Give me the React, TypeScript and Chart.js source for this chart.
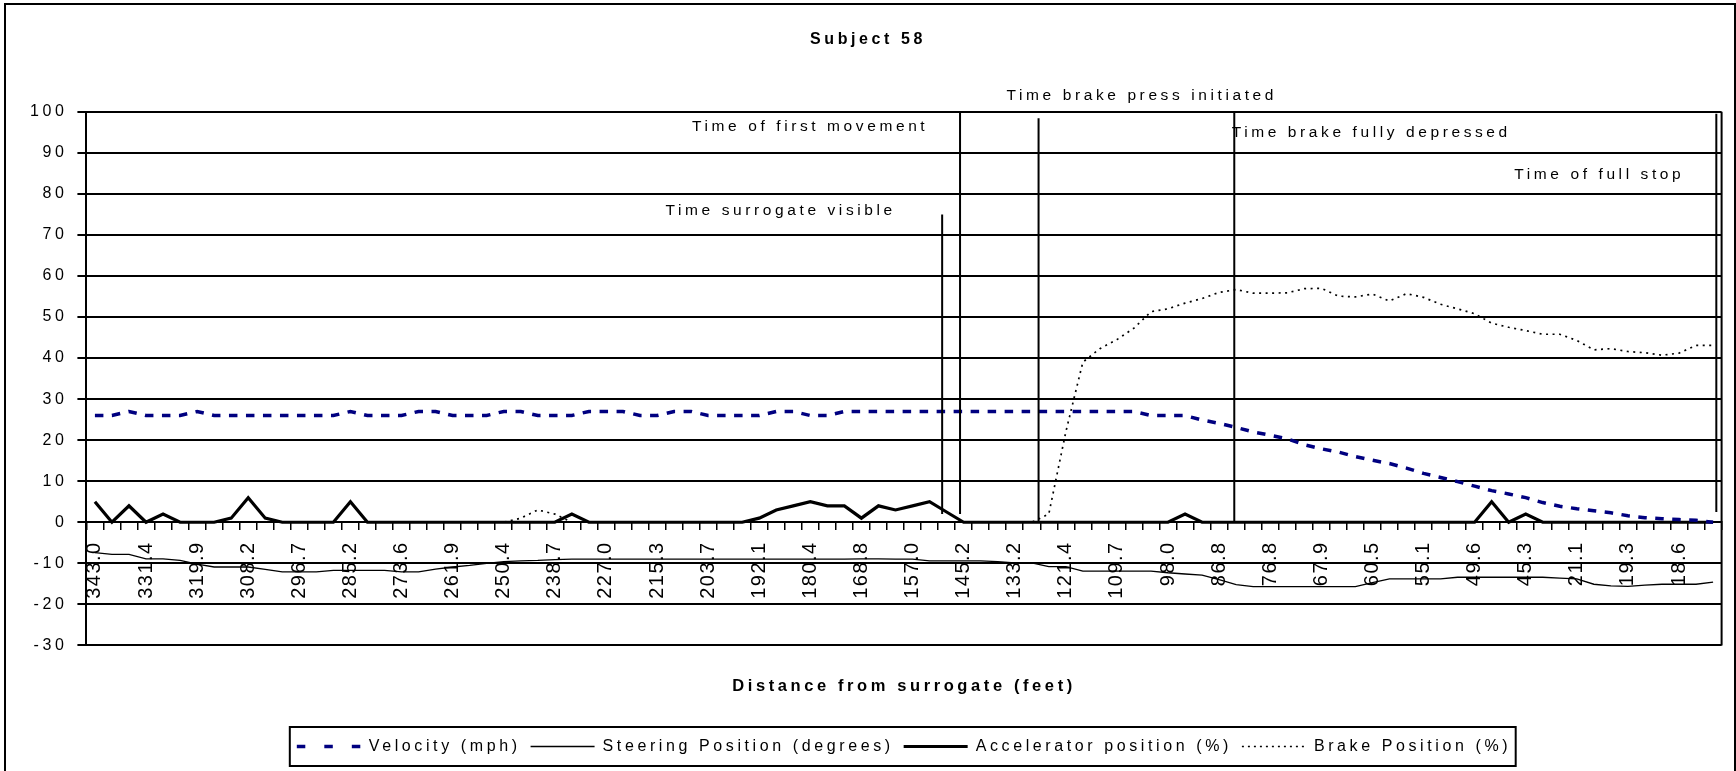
import React, { useEffect, useRef } from 'react';
import { Chart, registerables } from 'chart.js';

Chart.register(...registerables);

const FONT = "'Liberation Sans', Arial, sans-serif";
const LETTER_SPACING = '3.6px';
const TICK_SPACING = '1.5px';

// x-axis tick labels (distance from surrogate, feet) – one label every third sample
const tickLabels = [
  '343.0', '331.4', '319.9', '308.2', '296.7', '285.2', '273.6', '261.9', '250.4', '238.7',
  '227.0', '215.3', '203.7', '192.1', '180.4', '168.8', '157.0', '145.2', '133.2', '121.4',
  '109.7', '98.0', '86.8', '76.8', '67.9', '60.5', '55.1', '49.6', '45.3', '21.1',
  '19.3', '18.6',
];

const velocity = [
  26, 26, 27, 26, 26, 26, 27, 26, 26, 26,
  26, 26, 26, 26, 26, 27, 26, 26, 26, 27,
  27, 26, 26, 26, 27, 27, 26, 26, 26, 27,
  27, 27, 26, 26, 27, 27, 26, 26, 26, 26,
  27, 27, 26, 26, 27, 27, 27, 27, 27, 27,
  27, 27, 27, 27, 27, 27, 27, 27, 27, 27,
  27, 27, 26, 26, 26, 24.9, 24.1, 23.1, 22, 21.2,
  20.3, 18.9, 17.9, 17.1, 16, 15.1, 14.3, 13.2, 11.9, 10.9,
  9.9, 8.8, 7.7, 6.9, 6, 4.8, 3.9, 3.3, 2.8, 2.3,
  1.6, 1.1, 0.85, 0.65, 0.5, 0,
];

const steering = [
  -7.4, -7.8, -7.8, -8.9, -8.9, -9.3, -10.2, -10.9, -10.9, -10.9,
  -11.5, -12.1, -12.1, -12.1, -11.7, -11.7, -11.7, -11.7, -12.1, -12.1,
  -11.4, -10.9, -10.5, -10.0, -9.6, -9.4, -9.3, -9.1, -9.0, -9.0,
  -9.0, -9.0, -9.0, -9.0, -9.0, -9.0, -9.0, -9.0, -9.0, -9.0,
  -9.0, -9.0, -9.0, -9.0, -9.0, -8.9, -8.9, -9.0, -9.0, -9.4,
  -9.4, -9.4, -9.4, -9.6, -9.9, -9.9, -10.8, -10.8, -11.9, -11.9,
  -11.9, -11.9, -11.9, -12.3, -12.6, -12.9, -14.0, -15.2, -15.7, -15.7,
  -15.7, -15.7, -15.7, -15.7, -15.7, -14.7, -13.8, -13.8, -13.8, -13.8,
  -13.4, -13.4, -13.4, -13.4, -13.4, -13.4, -13.6, -13.8, -15.1, -15.5,
  -15.6, -15.3, -15.1, -15.1, -15.1, -14.6,
];

const accelerator = [
  5, 0, 4, 0, 2, 0, 0, 0, 1, 6,
  1, 0, 0, 0, 0, 5, 0, 0, 0, 0,
  0, 0, 0, 0, 0, 0, 0, 0, 2, 0,
  0, 0, 0, 0, 0, 0, 0, 0, 0, 1,
  3, 4, 5, 4, 4, 1, 4, 3, 4, 5,
  2.5, 0, 0, 0, 0, 0, 0, 0, 0, 0,
  0, 0, 0, 0, 2, 0, 0, 0, 0, 0,
  0, 0, 0, 0, 0, 0, 0, 0, 0, 0,
  0, 0, 5, 0, 2, 0, 0, 0, 0, 0,
  0, 0, 0, 0, 0, 0,
];

const brake = [
  0, 0, 0, 0, 0, 0, 0, 0, 0, 0,
  0, 0, 0, 0, 0, 0, 0, 0, 0, 0,
  0, 0, 0, 0, 0, 1, 3, 2, 0, 0,
  0, 0, 0, 0, 0, 0, 0, 0, 0, 0,
  0, 0, 0, 0, 0, 0, 0, 0, 0, 0,
  0, 0, 0, 0, 0, 0, 2, 22, 39, 42.3,
  44.5, 47.3, 51.3, 52, 53.4, 54.5, 56, 56.7, 55.8, 55.8,
  55.9, 56.9, 57, 55.1, 54.9, 55.6, 53.9, 55.7, 54.8, 53.1,
  52, 50.8, 48.5, 47.5, 46.7, 45.8, 45.8, 44.3, 42, 42.3,
  41.6, 41.3, 40.7, 41.2, 43.1, 43.1,
];

const seriesNames = [
  'Velocity (mph)',
  'Steering Position (degrees)',
  'Accelerator position (%)',
  'Brake Position (%)',
];

// event markers (x in sample-index units, y in axis units)
const eventLabels = [
  'Time surrogate visible',
  'Time of first movement',
  'Time brake press initiated',
  'Time brake fully depressed',
  'Time of full stop',
];
const eventAt = [49.74, 50.79, 55.4, 66.89, 95.19];
const eventTop = [75, 100, 98.4, 100, 99.5];
const eventBottom = [2, 2, 0, 0, 2.5];
const eventTextAt = [40.26, 41.99, 61.46, 74.93, 88.32];
const eventTextLevel = [75.8, 96.4, 104.0, 95.0, 84.6];

const categories = velocity.map((_, i) => (i % 3 === 0 ? tickLabels[i / 3] : ''));

const legendDashes = [[8.5, 19], [], [], [2, 4]];

const spacingPlugin = {
  id: 'letterSpacingPlugin',
  beforeUpdate(chart: any) { chart.ctx.letterSpacing = LETTER_SPACING; },
  beforeLayout(chart: any) { chart.ctx.letterSpacing = LETTER_SPACING; },
  beforeDraw(chart: any) { chart.ctx.letterSpacing = LETTER_SPACING; },
};

const eventPlugin = {
  id: 'eventMarkers',
  afterDatasetsDraw(chart: any) {
    const { ctx, scales } = chart;
    const x = scales.x;
    const y = scales.y;
    ctx.save();
    ctx.strokeStyle = '#000';
    ctx.lineWidth = 2;
    ctx.setLineDash([]);
    eventAt.forEach((v, i) => {
      const px = x.getPixelForValue(v);
      ctx.beginPath();
      ctx.moveTo(px, y.getPixelForValue(eventTop[i]));
      ctx.lineTo(px, y.getPixelForValue(eventBottom[i]));
      ctx.stroke();
    });
    ctx.font = `15.5px ${FONT}`;
    ctx.letterSpacing = LETTER_SPACING;
    ctx.fillStyle = '#000';
    ctx.textAlign = 'center';
    ctx.textBaseline = 'middle';
    eventLabels.forEach((t, i) => {
      ctx.fillText(t, x.getPixelForValue(eventTextAt[i]), y.getPixelForValue(eventTextLevel[i]));
    });
    ctx.restore();
    // the x tick labels are drawn after this hook (ticks.z = 1): tighter spacing
    ctx.letterSpacing = TICK_SPACING;
  },
};

const framePlugin = {
  id: 'frames',
  afterDraw(chart: any) {
    const { ctx, chartArea } = chart;
    ctx.save();
    ctx.strokeStyle = '#000';
    ctx.lineWidth = 2;
    ctx.setLineDash([]);
    ctx.beginPath();
    ctx.moveTo(chartArea.right, chartArea.top);
    ctx.lineTo(chartArea.right, chartArea.bottom);
    ctx.stroke();
    const hb = chart.legend && chart.legend.legendHitBoxes;
    if (hb && hb.length) {
      const first = hb[0];
      const last = hb[hb.length - 1];
      const left = first.left - 7;
      const right = last.left + last.width + 4.5;
      const cy = first.top + first.height / 2;
      ctx.strokeRect(left, cy - 19.5, right - left, 39);
    }
    ctx.strokeRect(5, 4, chart.width - 6, chart.height + 20);
    ctx.restore();
  },
};

export default function App() {
  const canvasRef = useRef<HTMLCanvasElement | null>(null);

  useEffect(() => {
    const canvas = canvasRef.current;
    if (!canvas) return;
    const chart = new Chart(canvas, {
      type: 'line',
      data: {
        labels: categories,
        datasets: [
          {
            label: seriesNames[0], data: velocity, borderColor: '#000080', borderWidth: 3.5,
            borderDash: [8.5, 8.5], pointRadius: 0, tension: 0, fill: false,
          },
          {
            label: seriesNames[1], data: steering, borderColor: '#000000', borderWidth: 1.3,
            pointRadius: 0, tension: 0, fill: false,
          },
          {
            label: seriesNames[2], data: accelerator, borderColor: '#000000', borderWidth: 3.2,
            pointRadius: 0, tension: 0, fill: false,
          },
          {
            label: seriesNames[3], data: brake, borderColor: '#000000', borderWidth: 1.7,
            borderDash: [2, 4.5], pointRadius: 0, tension: 0, fill: false,
          },
        ],
      },
      options: {
        animation: false,
        responsive: false,
        devicePixelRatio: 1,
        events: [],
        layout: { padding: { left: 0, right: 0, top: 0, bottom: 6.5 } },
        scales: {
          x: {
            type: 'category',
            position: { y: 0 } as any,
            offset: true,
            grid: {
              display: true, drawOnChartArea: false, drawTicks: true, tickLength: 7,
              offset: true, color: '#000', lineWidth: 1.5,
            },
            border: { display: true, color: '#000', width: 2 },
            ticks: {
              autoSkip: false, maxRotation: 90, minRotation: 90, padding: 12, color: '#000', z: 1,
              font: { size: 20, family: FONT },
            },
            afterFit: (s: any) => { s.paddingLeft = 0; s.paddingRight = 0; },
          },
          y: {
            type: 'linear',
            position: 'left',
            min: -30,
            max: 100,
            ticks: { stepSize: 10, color: '#000', padding: 10, font: { size: 16, family: FONT } },
            grid: { color: '#000', lineWidth: 2, tickLength: 9, drawTicks: true },
            border: { display: true, color: '#000', width: 2 },
            afterFit: (s: any) => { s.width = 86.4; },
          },
          yR: {
            type: 'linear',
            position: 'right',
            display: true,
            grid: { display: false },
            border: { display: false },
            ticks: { display: false },
            afterFit: (s: any) => { s.width = 14.4; },
          },
        },
        plugins: {
          tooltip: { enabled: false },
          title: {
            display: true, text: 'Subject 58', color: '#000',
            font: { size: 16, weight: 'bold', family: FONT },
            padding: { top: 29.6, bottom: 63 },
          },
          subtitle: {
            display: true, text: 'Distance from surrogate (feet)', position: 'bottom',
            fullSize: false, weight: 1500, color: '#000',
            font: { size: 16.5, weight: 'bold', family: FONT },
            padding: { top: 30.7, bottom: 32.6 },
          },
          legend: {
            display: true, position: 'bottom', fullSize: false, weight: 3000,
            labels: {
              usePointStyle: true, pointStyleWidth: 64, padding: 10, color: '#000',
              font: { size: 16, family: FONT },
              generateLabels: (c: any) => c.data.datasets.map((ds: any, i: number) => ({
                text: ds.label,
                fillStyle: 'rgba(0,0,0,0)',
                strokeStyle: ds.borderColor,
                lineWidth: ds.borderWidth,
                lineDash: legendDashes[i],
                lineCap: 'butt',
                pointStyle: 'line',
                hidden: false,
                datasetIndex: i,
                fontColor: '#000',
              })),
            },
          } as any,
        },
      } as any,
      plugins: [spacingPlugin, eventPlugin, framePlugin],
    });
    return () => chart.destroy();
  }, []);

  return (
    <div style={{ position: 'fixed', left: 0, top: 0, width: 1736, height: 771, background: '#fff' }}>
      <canvas ref={canvasRef} width={1736} height={771} style={{ display: 'block' }} />
    </div>
  );
}
